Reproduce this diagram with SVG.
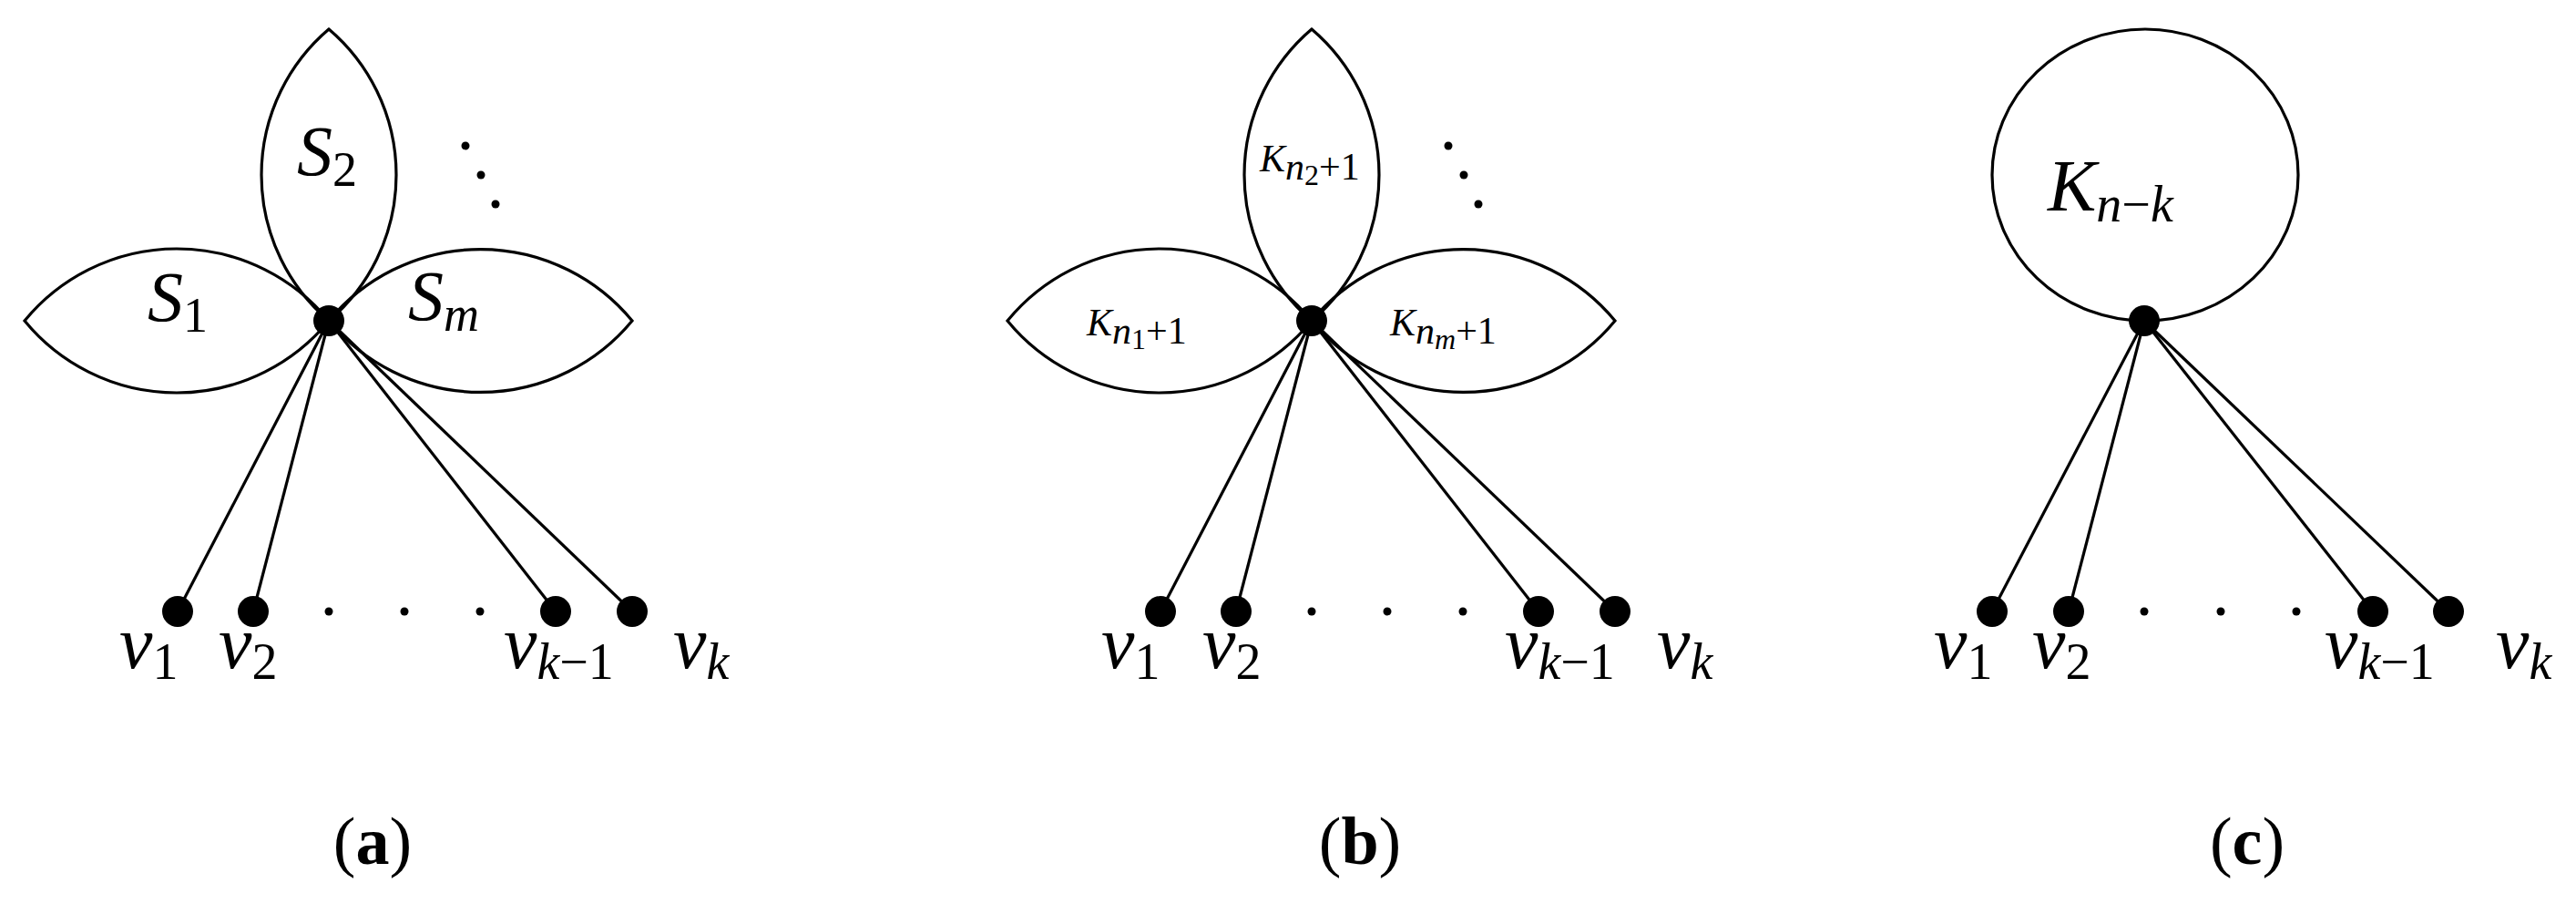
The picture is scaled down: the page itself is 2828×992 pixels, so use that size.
<svg xmlns="http://www.w3.org/2000/svg" width="2828" height="992" viewBox="0 0 2828 992">
<style>
.e{fill:none;stroke:#000;stroke-width:3.2}
.m{font-family:"Liberation Serif",serif;font-style:italic;fill:#000}
.r{font-family:"Liberation Serif",serif;fill:#000}
.b{font-family:"Liberation Serif",serif;font-weight:bold;fill:#000}
</style>
<rect width="2828" height="992" fill="#fff"/>
<defs>
<g id="flower">
<path class="e" d="M361 352 A216 216 0 0 0 27 352 A216 216 0 0 0 361 352 Z"/>
<path class="e" d="M361 352 A216 216 0 0 1 694 352 A216 216 0 0 1 361 352 Z"/>
<path class="e" d="M361 352 A210 210 0 0 1 361 32 A210 210 0 0 1 361 352 Z"/>
<circle cx="511" cy="160" r="4.5"/><circle cx="528" cy="192" r="4.5"/><circle cx="544" cy="224" r="4.5"/>
</g>
</defs>
<g id="connectors">
<g class="e">
<line x1="361" y1="352" x2="195" y2="671"/><line x1="361" y1="352" x2="278" y2="671"/>
<line x1="361" y1="352" x2="610" y2="671"/><line x1="361" y1="352" x2="694" y2="671"/>
<line x1="1440" y1="352" x2="1274" y2="671"/><line x1="1440" y1="352" x2="1357" y2="671"/>
<line x1="1440" y1="352" x2="1689" y2="671"/><line x1="1440" y1="352" x2="1773" y2="671"/>
<line x1="2354" y1="352" x2="2187" y2="671"/><line x1="2354" y1="352" x2="2271" y2="671"/>
<line x1="2354" y1="352" x2="2605" y2="671"/><line x1="2354" y1="352" x2="2688" y2="671"/>
</g>
</g>
<g id="panel-a">
<use href="#flower"/>
<circle cx="361" cy="352" r="17"/>
<text class="m" x="326" y="192" font-size="78">S<tspan font-style="normal" font-size="54" dy="12">2</tspan></text>
<text class="m" x="162" y="352" font-size="78">S<tspan font-style="normal" font-size="54" dy="12">1</tspan></text>
<text class="m" x="448" y="351" font-size="78">S<tspan font-size="54" dy="12">m</tspan></text>
<circle cx="195" cy="671" r="17"/><circle cx="278" cy="671" r="17"/><circle cx="610" cy="671" r="17"/><circle cx="694" cy="671" r="17"/>
<circle cx="361" cy="671" r="4.5"/><circle cx="444" cy="671" r="4.5"/><circle cx="527" cy="671" r="4.5"/>
<text class="m" x="131" y="733" font-size="82">v<tspan font-style="normal" font-size="56" dy="12">1</tspan></text>
<text class="m" x="240" y="733" font-size="82">v<tspan font-style="normal" font-size="56" dy="12">2</tspan></text>
<text class="m" x="553" y="733" font-size="82">v<tspan font-size="56" dy="12">k</tspan><tspan font-style="normal" font-size="56">−1</tspan></text>
<text class="m" x="739" y="733" font-size="82">v<tspan font-size="56" dy="12">k</tspan></text>
<text class="r" x="409" y="948" font-size="74" text-anchor="middle">(<tspan class="b">a</tspan>)</text>
</g>
<g id="panel-b">
<use href="#flower" transform="translate(1079 0)"/>
<circle cx="1440" cy="352" r="17"/>
<text class="m" x="1383" y="188" font-size="42">K<tspan font-size="42" dy="9">n</tspan><tspan font-style="normal" font-size="32" dy="6">2</tspan><tspan font-style="normal" font-size="42" dy="-6">+1</tspan></text>
<text class="m" x="1193" y="368" font-size="42">K<tspan font-size="42" dy="9">n</tspan><tspan font-style="normal" font-size="32" dy="6">1</tspan><tspan font-style="normal" font-size="42" dy="-6">+1</tspan></text>
<text class="m" x="1526" y="368" font-size="42">K<tspan font-size="42" dy="9">n</tspan><tspan font-size="32" dy="6">m</tspan><tspan font-style="normal" font-size="42" dy="-6">+1</tspan></text>
<circle cx="1274" cy="671" r="17"/><circle cx="1357" cy="671" r="17"/><circle cx="1689" cy="671" r="17"/><circle cx="1773" cy="671" r="17"/>
<circle cx="1440" cy="671" r="4.5"/><circle cx="1523" cy="671" r="4.5"/><circle cx="1606" cy="671" r="4.5"/>
<text class="m" x="1209" y="733" font-size="82">v<tspan font-style="normal" font-size="56" dy="12">1</tspan></text>
<text class="m" x="1320" y="733" font-size="82">v<tspan font-style="normal" font-size="56" dy="12">2</tspan></text>
<text class="m" x="1652" y="733" font-size="82">v<tspan font-size="56" dy="12">k</tspan><tspan font-style="normal" font-size="56">−1</tspan></text>
<text class="m" x="1819" y="733" font-size="82">v<tspan font-size="56" dy="12">k</tspan></text>
<text class="r" x="1493" y="948" font-size="74" text-anchor="middle">(<tspan class="b">b</tspan>)</text>
</g>
<g id="panel-c">
<ellipse class="e" cx="2355" cy="192" rx="168" ry="160"/>
<circle cx="2354" cy="352" r="17"/>
<text class="m" x="2248" y="231" font-size="80">K<tspan font-size="56" dy="12">n</tspan><tspan font-style="normal" font-size="56">−</tspan><tspan font-size="56">k</tspan></text>
<circle cx="2187" cy="671" r="17"/><circle cx="2271" cy="671" r="17"/><circle cx="2605" cy="671" r="17"/><circle cx="2688" cy="671" r="17"/>
<circle cx="2354" cy="671" r="4.5"/><circle cx="2438" cy="671" r="4.5"/><circle cx="2521" cy="671" r="4.5"/>
<text class="m" x="2123" y="733" font-size="82">v<tspan font-style="normal" font-size="56" dy="12">1</tspan></text>
<text class="m" x="2231" y="733" font-size="82">v<tspan font-style="normal" font-size="56" dy="12">2</tspan></text>
<text class="m" x="2552" y="733" font-size="82">v<tspan font-size="56" dy="12">k</tspan><tspan font-style="normal" font-size="56">−1</tspan></text>
<text class="m" x="2740" y="733" font-size="82">v<tspan font-size="56" dy="12">k</tspan></text>
<text class="r" x="2467" y="948" font-size="74" text-anchor="middle">(<tspan class="b">c</tspan>)</text>
</g>
</svg>
